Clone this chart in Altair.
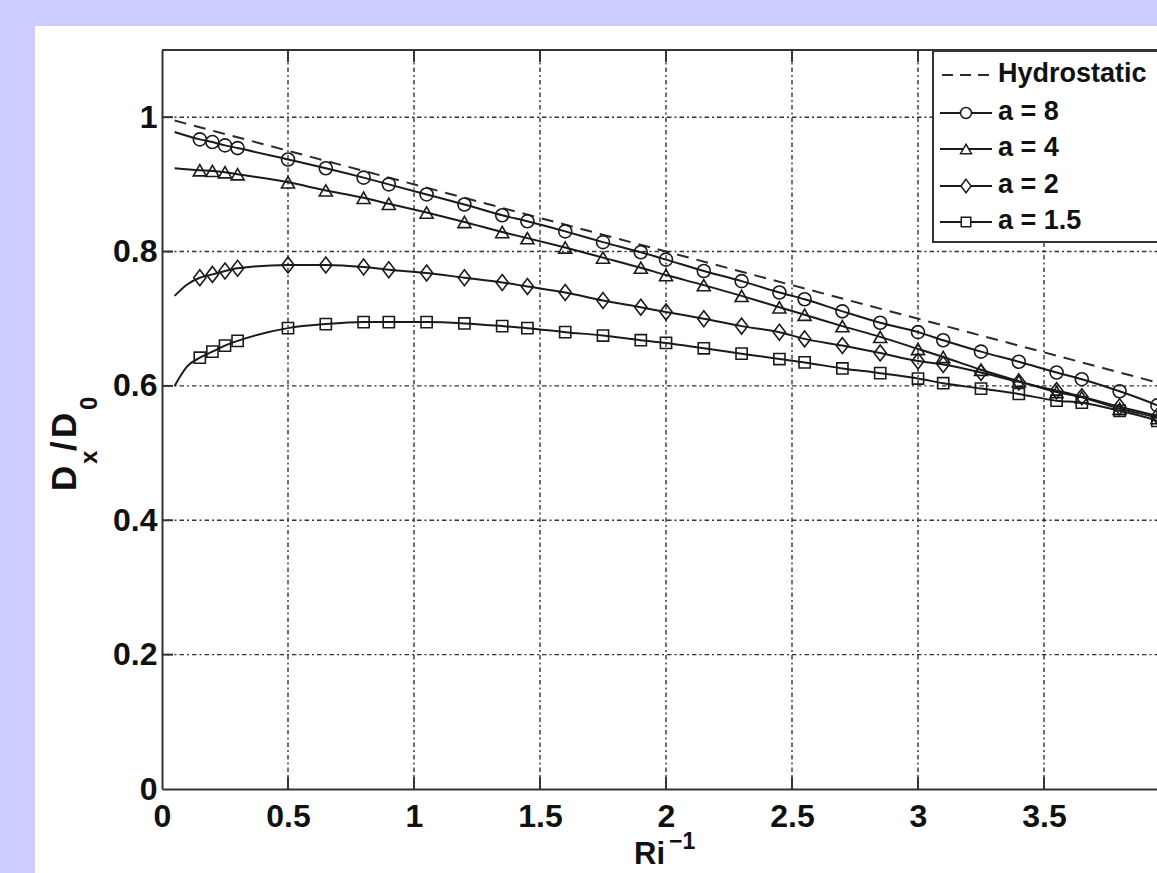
import altair as alt
import pandas as pd

# ---------------------------------------------------------------------------
# Data: normalised dispersion D_x/D_0 versus inverse Richardson number
# ---------------------------------------------------------------------------
SERIES = ["Hydrostatic", "a = 8", "a = 4", "a = 2", "a = 1.5"]

ri_inv = [0.15, 0.2, 0.25, 0.3, 0.5, 0.65, 0.8, 0.9, 1.05, 1.2, 1.35, 1.45,
          1.6, 1.75, 1.9, 2.0, 2.15, 2.3, 2.45, 2.55, 2.7, 2.85, 3.0, 3.1,
          3.25, 3.4, 3.55, 3.65, 3.8, 3.95]

dx_a8 = [0.967, 0.963, 0.958, 0.954, 0.937, 0.924, 0.910, 0.900, 0.885, 0.870,
         0.854, 0.845, 0.830, 0.814, 0.799, 0.788, 0.771, 0.756, 0.739, 0.729,
         0.711, 0.694, 0.680, 0.668, 0.651, 0.636, 0.620, 0.610, 0.592, 0.571]
dx_a4 = [0.921, 0.920, 0.918, 0.915, 0.903, 0.891, 0.880, 0.871, 0.858, 0.844,
         0.829, 0.820, 0.806, 0.791, 0.776, 0.765, 0.750, 0.734, 0.717, 0.706,
         0.689, 0.673, 0.655, 0.643, 0.624, 0.607, 0.591, 0.583, 0.566, 0.552]
dx_a2 = [0.761, 0.766, 0.771, 0.775, 0.780, 0.780, 0.777, 0.773, 0.768, 0.761,
         0.754, 0.748, 0.739, 0.727, 0.717, 0.710, 0.700, 0.689, 0.680, 0.670,
         0.660, 0.649, 0.637, 0.632, 0.620, 0.606, 0.593, 0.584, 0.569, 0.555]
dx_a15 = [0.642, 0.651, 0.660, 0.667, 0.686, 0.692, 0.695, 0.695, 0.695, 0.693,
          0.689, 0.686, 0.680, 0.675, 0.668, 0.664, 0.656, 0.648, 0.640, 0.635,
          0.626, 0.619, 0.611, 0.604, 0.596, 0.588, 0.578, 0.575, 0.563, 0.548]

# the solid curves start a little left of the first sample and run to Ri^-1 = 4
a8_head_x, a8_head_y = [0.05], [0.978]
a4_head_x, a4_head_y = [0.05], [0.924]
a2_head_x, a2_head_y = [0.05, 0.1], [0.734, 0.751]
a15_head_x, a15_head_y = [0.05, 0.1], [0.600, 0.629]
tail_x = [4.0]
a8_tail_y, a4_tail_y, a2_tail_y, a15_tail_y = [0.563], [0.545], [0.549], [0.541]

hydro_x = [0.05, 4.0]
hydro_y = [0.995, 0.600]

x_ticks = [0, 0.5, 1, 1.5, 2, 2.5, 3, 3.5]
y_ticks = [0, 0.2, 0.4, 0.6, 0.8, 1.0]

# ---------------------------------------------------------------------------
# Layout
# ---------------------------------------------------------------------------
PW, PH = 995, 739          # plot area in pixels
LEFT, TOP = 162, 50        # plot origin inside the page
X_MAX = 3.9484             # right edge of the visible window
INK = "#1a1a1a"
AXIS_INK = "#333333"
LAVENDER = "#ccccff"
FONT = "Liberation Sans"
DIAMOND = "M0,-1.3L1,0L0,1.3L-1,0Z"

xscale = alt.Scale(domain=[0, X_MAX], nice=False, zero=False)
yscale = alt.Scale(domain=[0, 1.1], nice=False, zero=False)

xaxis = alt.Axis(values=x_ticks, format="~g", title=None, grid=False,
                 ticks=False, tickSize=0, labelPadding=12, labelFontSize=32,
                 labelFontWeight="bold", labelColor="#111111", labelFont=FONT,
                 labelFlush=False, labelOverlap=False,
                 domainColor=AXIS_INK, domainWidth=2)
yaxis = alt.Axis(values=y_ticks, format="~g", title=None, grid=False,
                 ticks=False, tickSize=0, labelPadding=5, labelFontSize=32,
                 labelFontWeight="bold", labelColor="#111111", labelFont=FONT,
                 labelFlush=False, labelOverlap=False,
                 domainColor=AXIS_INK, domainWidth=2)


def X(field="x"):
    return alt.X(f"{field}:Q", scale=xscale, axis=xaxis)


def Y(field="y"):
    return alt.Y(f"{field}:Q", scale=yscale, axis=yaxis)


one = pd.DataFrame({"k": [0]})

# page frame: lavender margin around a white figure
frame_top = alt.Chart(one).mark_rect(color=LAVENDER).encode(
    x=alt.value(-LEFT), x2=alt.value(PW), y=alt.value(-TOP), y2=alt.value(26 - TOP))
frame_left = alt.Chart(one).mark_rect(color=LAVENDER).encode(
    x=alt.value(-LEFT), x2=alt.value(35 - LEFT), y=alt.value(-TOP), y2=alt.value(PH + 90))

# dotted grid
grid_dash = [2, 3, 4.5, 3]
vgrid = alt.Chart(pd.DataFrame({"x": x_ticks[1:]})).mark_rule(
    color=AXIS_INK, strokeWidth=1.4, strokeDash=grid_dash).encode(
    x=X(), y=alt.value(0), y2=alt.value(PH))
hgrid = alt.Chart(pd.DataFrame({"y": y_ticks[1:]})).mark_rule(
    color=AXIS_INK, strokeWidth=1.4, strokeDash=grid_dash).encode(
    y=Y(), x=alt.value(0), x2=alt.value(PW))

# inward tick marks on bottom, top and left
tick_len = 12
bottom_ticks = alt.Chart(pd.DataFrame({"x": x_ticks[1:]})).mark_rule(
    color=AXIS_INK, strokeWidth=2).encode(
    x=X(), y=alt.value(PH), y2=alt.value(PH - tick_len))
top_ticks = alt.Chart(pd.DataFrame({"x": x_ticks[1:]})).mark_rule(
    color=AXIS_INK, strokeWidth=2).encode(
    x=X(), y=alt.value(0), y2=alt.value(tick_len))
left_ticks = alt.Chart(pd.DataFrame({"y": y_ticks[1:]})).mark_rule(
    color=AXIS_INK, strokeWidth=2).encode(
    y=Y(), x=alt.value(0), x2=alt.value(tick_len - 1))
top_border = alt.Chart(one).mark_rule(color=AXIS_INK, strokeWidth=2).encode(
    x=alt.value(0), x2=alt.value(PW), y=alt.value(0))

# curves
hydro = pd.DataFrame({"x": hydro_x, "y": hydro_y})
hydro_line = alt.Chart(hydro).mark_line(
    color="#2a2a2a", strokeWidth=2, strokeDash=[12, 8]).encode(x=X(), y=Y())

curve_frames = []
for name, hx, hy, vals, ty in [
    ("a = 8", a8_head_x, a8_head_y, dx_a8, a8_tail_y),
    ("a = 4", a4_head_x, a4_head_y, dx_a4, a4_tail_y),
    ("a = 2", a2_head_x, a2_head_y, dx_a2, a2_tail_y),
    ("a = 1.5", a15_head_x, a15_head_y, dx_a15, a15_tail_y),
]:
    curve_frames.append(pd.DataFrame({"x": hx + ri_inv + tail_x,
                                      "y": hy + vals + ty, "s": name}))
curves = pd.concat(curve_frames, ignore_index=True)
curve_lines = alt.Chart(curves).mark_line(
    color=INK, strokeWidth=2, interpolate="monotone").encode(
    x=X(), y=Y(), detail="s:N")

marker_style = [
    ("a = 8", dx_a8, "circle", 169),
    ("a = 4", dx_a4, "triangle-up", 169),
    ("a = 2", dx_a2, DIAMOND, 150),
    ("a = 1.5", dx_a15, "square", 125),
]
marker_layers = []
for name, vals, shape, size in marker_style:
    marker_layers.append(
        alt.Chart(pd.DataFrame({"x": ri_inv, "y": vals})).mark_point(
            shape=shape, size=size, filled=False, stroke=INK,
            strokeWidth=1.6, opacity=1).encode(x=X(), y=Y()))

# legend box in the upper-right corner
legend_rows = [25, 63, 99, 136, 172]
legend_layers = [
    alt.Chart(one).mark_rect(fill="white", stroke=AXIS_INK, strokeWidth=2).encode(
        x=alt.value(771), x2=alt.value(PW + 60), y=alt.value(1), y2=alt.value(192))
]
legend_shapes = {"a = 8": ("circle", 120), "a = 4": ("triangle-up", 120),
                 "a = 2": (DIAMOND, 105), "a = 1.5": ("square", 90)}
for name, row in zip(SERIES, legend_rows):
    lab = pd.DataFrame({"label": [name]})
    if name == "Hydrostatic":
        legend_layers.append(alt.Chart(lab).mark_rule(
            color="#2a2a2a", strokeWidth=2, strokeDash=[11, 7]).encode(
            x=alt.value(780), x2=alt.value(831), y=alt.value(row)))
    else:
        shape, size = legend_shapes[name]
        legend_layers.append(alt.Chart(lab).mark_rule(
            color=INK, strokeWidth=2).encode(
            x=alt.value(778), x2=alt.value(830), y=alt.value(row)))
        legend_layers.append(alt.Chart(lab).mark_point(
            shape=shape, size=size, filled=False, fill="white", stroke=INK,
            strokeWidth=1.5, opacity=1).encode(
            x=alt.value(804), y=alt.value(row)))
    legend_layers.append(alt.Chart(lab).mark_text(
        align="left", baseline="middle", fontSize=27, fontWeight="bold",
        font=FONT, color="#111111").encode(
        x=alt.value(836), y=alt.value(row - 1), text="label:N"))

# axis titles: D_x/D_0 (rotated) and Ri^-1
def word(txt, x, y, size, angle=0):
    return alt.Chart(pd.DataFrame({"t": [txt]})).mark_text(
        align="left", baseline="alphabetic", fontSize=size, fontWeight="bold",
        font=FONT, color="#111111", angle=angle).encode(
        x=alt.value(x), y=alt.value(y), text="t:N")


main_base = 76 - LEFT
sub_base = 97 - LEFT
y_title = [
    word("D", main_base, 491 - TOP, 35, 270),
    word("x", sub_base, 464 - TOP, 24, 270),
    word("/", main_base, 451 - TOP, 35, 270),
    word("D", main_base, 438 - TOP, 35, 270),
    word("0", sub_base, 410 - TOP, 24, 270),
]
x_title = [
    word("Ri", 634 - LEFT, 864 - TOP, 31),
    word("\u22121", 669 - LEFT, 849 - TOP, 23),
]

chart = alt.layer(
    frame_top, frame_left, vgrid, hgrid, bottom_ticks, top_ticks, left_ticks,
    top_border, hydro_line, curve_lines, *marker_layers, *legend_layers,
    *y_title, *x_title,
).properties(
    width=PW, height=PH,
    autosize=alt.AutoSizeParams(type="none"),
    padding={"left": LEFT, "top": TOP, "right": 0, "bottom": 873 - TOP - PH},
).configure(
    background="white", font=FONT,
).configure_view(strokeWidth=0)

chart.save("out.html", embed_options={"renderer": "svg", "actions": False})
